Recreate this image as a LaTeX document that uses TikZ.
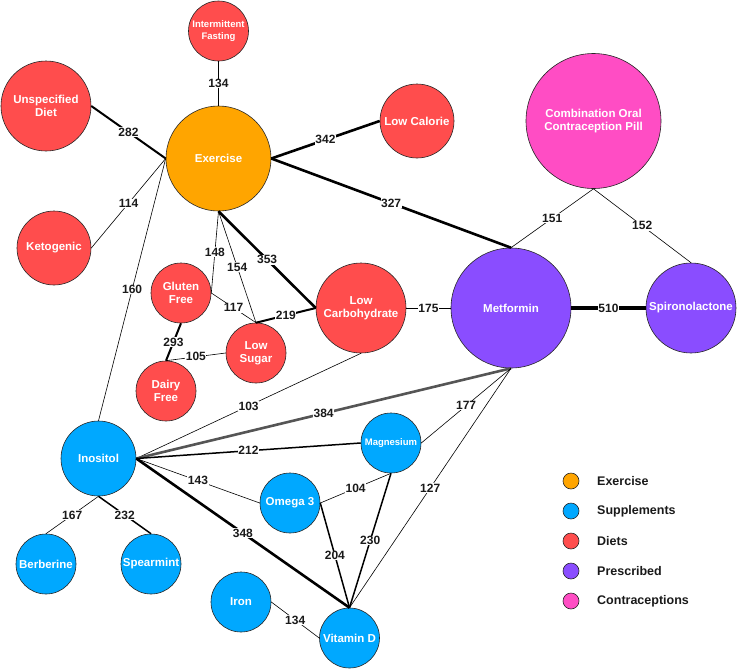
\documentclass[tikz,border=0pt]{standalone}
\usepackage{fontspec}
\setmainfont{Liberation Sans}
\newcommand\mynodefont{\bfseries\fontsize{11.5}{13}\selectfont}
\newcommand\mysmallfont{\bfseries\fontsize{9.5}{12}\selectfont}
\newcommand\mylblfont{\bfseries\fontsize{12}{14}\selectfont}
\newcommand\mylegfont{\bfseries\fontsize{12.5}{14}\selectfont}
\definecolor{cex}{HTML}{FFA500}
\definecolor{csu}{HTML}{00A8FF}
\definecolor{cdi}{HTML}{FF4D4D}
\definecolor{cpr}{HTML}{8A4DFF}
\definecolor{cco}{HTML}{FF4DC4}
\definecolor{cgray}{HTML}{555555}
\definecolor{ctext}{HTML}{1A1A1A}
\tikzset{
  nd/.style={circle, draw=black!85, line width=0.6pt, inner sep=0pt, text=white, font=\mynodefont, align=center},
  lbl/.style={fill=white, inner sep=0.6pt, font=\mylblfont, text=ctext},
  wa/.style={draw=black, line width=0.6pt},
  wb/.style={draw=black, line width=1.5pt},
  wc/.style={draw=black, line width=2.0pt},
  wd/.style={draw=black, line width=2.6pt},
  we/.style={draw=black, line width=4.5pt},
  wg/.style={draw=cgray, line width=2.6pt},
  leg/.style={circle, draw=black!85, line width=0.6pt, inner sep=0pt, minimum size=16pt},
  legtxt/.style={anchor=west, font=\mylegfont, text=ctext, inner sep=0pt}
}
\begin{document}
\begin{tikzpicture}[x=1pt, y=-1pt]
\useasboundingbox (0,0) rectangle (737,670);
% nodes
\node[nd, fill=cdi, minimum size=60pt, font=\mysmallfont] (if) at (218.5,31) {Intermittent\\Fasting};
\node[nd, fill=cdi, minimum size=90pt] (ud) at (46,106) {Unspecified\\Diet};
\node[nd, fill=cex, minimum size=105pt] (ex) at (218.5,158.5) {Exercise};
\node[nd, fill=cdi, minimum size=74pt] (ke) at (54,248) {Ketogenic};
\node[nd, fill=cdi, minimum size=74pt] (lc) at (417,121) {Low Calorie};
\node[nd, fill=cco, minimum size=135pt] (co) at (593.5,121) {Combination Oral\\Contraception Pill};
\node[nd, fill=cpr, minimum size=120pt] (me) at (511,308) {Metformin};
\node[nd, fill=cpr, minimum size=90pt] (sp) at (691,308) {Spironolactone};
\node[nd, fill=cdi, minimum size=90pt] (lch) at (361,308) {Low\\Carbohydrate};
\node[nd, fill=cdi, minimum size=60pt] (gf) at (181,293) {Gluten\\Free};
\node[nd, fill=cdi, minimum size=60pt] (ls) at (256,353) {Low\\Sugar};
\node[nd, fill=cdi, minimum size=60pt] (df) at (166,391) {Dairy\\Free};
\node[nd, fill=csu, minimum size=75pt] (in) at (98.5,458.5) {Inositol};
\node[nd, fill=csu, minimum size=60pt] (be) at (46,564) {Berberine};
\node[nd, fill=csu, minimum size=60pt] (sm) at (151,564) {Spearmint};
\node[nd, fill=csu, minimum size=60pt] (ir) at (241,602) {Iron};
\node[nd, fill=csu, minimum size=60pt] (vd) at (349.5,638) {Vitamin D};
\node[nd, fill=csu, minimum size=60pt] (om) at (290,503) {Omega 3};
\node[nd, fill=csu, minimum size=60pt, font=\mysmallfont] (mg) at (391,443) {Magnesium};
% edges
\draw[wa] (if.south) -- node[lbl]{134} (ex.north);
\draw[wc] (ud.east) -- node[lbl]{282} (ex.west);
\draw[wa] (ke.east) -- node[lbl]{114} (ex.west);
\draw[wd] (ex.east) -- node[lbl]{342} (lc.west);
\draw[wd] (ex.east) -- node[lbl]{327} (me.north);
\draw[wa] (ex.west) -- node[lbl]{160} (in.north);
\draw[wa] (ex.south) -- node[lbl]{148} (gf.east);
\draw[wa] (ex.south) -- node[lbl]{154} (ls.north);
\draw[wd] (ex.south) -- node[lbl]{353} (lch.west);
\draw[wa] (gf.east) -- node[lbl]{117} (ls.north);
\draw[wc] (ls.north) -- node[lbl]{219} (lch.west);
\draw[wc] (gf.south) -- node[lbl]{293} (df.north);
\draw[wa] (df.north) -- node[lbl]{105} (ls.west);
\draw[wa] (lch.east) -- node[lbl]{175} (me.west);
\draw[wa] (me.north) -- node[lbl]{151} (co.south);
\draw[wa] (co.south) -- node[lbl]{152} (sp.north);
\draw[we] (me.east) -- node[lbl]{510} (sp.west);
\draw[wa] (in.east) -- node[lbl]{103} (lch.south);
\draw[wg] (in.east) -- node[lbl]{384} (me.south);
\draw[wb] (in.east) -- node[lbl]{212} (mg.west);
\draw[wa] (in.east) -- node[lbl]{143} (om.west);
\draw[wd] (in.east) -- node[lbl]{348} (vd.north);
\draw[wa] (in.south) -- node[lbl]{167} (be.north);
\draw[wb] (in.south) -- node[lbl]{232} (sm.north);
\draw[wa] (om.east) -- node[lbl]{104} (mg.south);
\draw[wb] (om.east) -- node[lbl]{204} (vd.north);
\draw[wb] (mg.south) -- node[lbl]{230} (vd.north);
\draw[wa] (mg.east) -- node[lbl]{177} (me.south);
\draw[wa] (me.south) -- node[lbl]{127} (vd.north);
\draw[wa] (ir.east) -- node[lbl]{134} (vd.west);
% legend
\node[leg, fill=cex] (l1) at (571,481) {};
\node[leg, fill=csu] (l2) at (571,511) {};
\node[leg, fill=cdi] (l3) at (571,541) {};
\node[leg, fill=cpr] (l4) at (571,571) {};
\node[leg, fill=cco] (l5) at (571,601) {};
\node[legtxt] (t1) at (597,481) {Exercise};
\node[legtxt] (t2) at (597,511) {Supplements};
\node[legtxt] (t3) at (597,541) {Diets};
\node[legtxt] (t4) at (597,571) {Prescribed};
\node[legtxt] (t5) at (597,601) {Contraceptions};
\end{tikzpicture}
\end{document}
